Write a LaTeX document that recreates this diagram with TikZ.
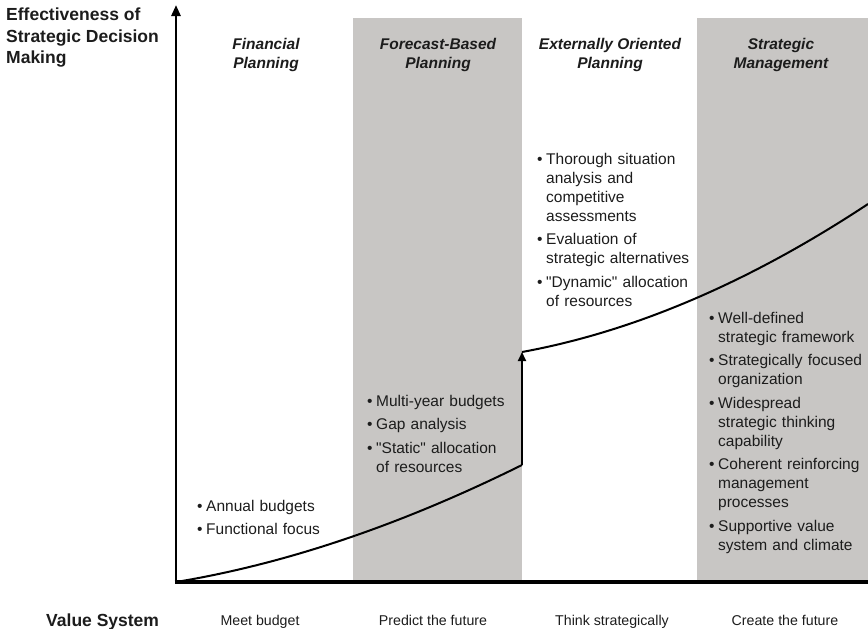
\documentclass[tikz,border=0pt]{standalone}
\usepackage{fontspec}
\setmainfont{Liberation Sans}
\usetikzlibrary{arrows.meta}
\definecolor{band}{RGB}{200,198,196}
\definecolor{ink}{RGB}{28,28,28}
% one bullet item with a hanging indent; lines inside it are broken with \newline
\newcommand\bitem{\par\hangindent=9pt\hangafter=1\noindent\makebox[9pt][l]{•}}
\newcommand\bgap{\par\vspace{4.5pt}}
\newcommand\qt{\textquotedbl}
\begin{document}
\begin{tikzpicture}[x=1pt,y=-1pt,
  blist/.style={anchor=north west, inner sep=0pt, text width=170pt, align=left,
    font=\fontsize{15.5}{19}\selectfont, text=ink},
  head/.style={anchor=north, inner sep=0pt, align=center,
    font=\fontsize{15.5}{19}\selectfont\bfseries\itshape, text=ink},
  axislabel/.style={inner sep=0pt, align=left,
    font=\fontsize{17.5}{21.5}\selectfont\bfseries, text=ink},
  valuelabel/.style={anchor=base, inner sep=0pt, font=\fontsize{14.2}{17}\selectfont, text=ink},
  curve/.style={line width=2pt, draw=black},
  axis/.style={draw=black, line width=3pt}]
\useasboundingbox (0,0) rectangle (868,629);

% shaded stages
\fill[band] (353,18) rectangle (522,582);
\fill[band] (697,18) rectangle (868,582);

% axes
\coordinate (O) at (176,582);
\coordinate (ytop) at (176,5);
\coordinate (xend) at (868,582);
\draw[axis, line width=2.6pt, -{Triangle[width=9pt,length=11pt]}] (O) -- (ytop);
\draw[axis, line width=3.6pt] ([xshift=-1.5pt]O) -- (xend);

% effectiveness curve with the jump between planning stages
\coordinate (c1end) at (522,465);
\coordinate (c2start) at (522,352);
\coordinate (c2end) at (868,204);
\draw[curve] (O) .. controls (291,563) and (407,522) .. (c1end);
\draw[curve, -{Triangle[width=8pt,length=9pt]}] (c1end) -- (c2start);
\draw[curve] (c2start) .. controls (637,331) and (753,280) .. (c2end);

% vertical axis title
\node[axislabel, anchor=north west] (ytitle) at (6,8)
  {Effectiveness of\\Strategic Decision\\Making};

% stage headings
\node[head] (h1) at (266,38) {Financial\\Planning};
\node[head] (h2) at (438,38) {Forecast-Based\\Planning};
\node[head] (h3) at (610,38) {Externally Oriented\\Planning};
\node[head] (h4) at (781,38) {Strategic\\Management};

% stage characteristics
\node[blist] (l1) at (197,492) {%
  \bitem Annual budgets
  \bgap\bitem Functional focus\par};
\node[blist] (l2) at (367,387) {%
  \bitem Multi-year budgets
  \bgap\bitem Gap analysis
  \bgap\bitem \qt Static\qt\ allocation\newline of resources\par};
\node[blist] (l3) at (537,145) {%
  \bitem Thorough situation\newline analysis and\newline competitive\newline assessments
  \bgap\bitem Evaluation of\newline strategic alternatives
  \bgap\bitem \qt Dynamic\qt\ allocation\newline of resources\par};
\node[blist] (l4) at (709,304) {%
  \bitem Well-defined\newline strategic framework
  \bgap\bitem Strategically focused\newline organization
  \bgap\bitem Widespread\newline strategic thinking\newline capability
  \bgap\bitem Coherent reinforcing\newline management\newline processes
  \bgap\bitem Supportive value\newline system and climate\par};

% value system row
\node[axislabel, anchor=base west] (vs) at (46,626) {Value System};
\node[valuelabel] (v1) at (260,625) {Meet budget};
\node[valuelabel] (v2) at (433,625) {Predict the future};
\node[valuelabel] (v3) at (612,625) {Think strategically};
\node[valuelabel] (v4) at (785,625) {Create the future};
\end{tikzpicture}
\end{document}
